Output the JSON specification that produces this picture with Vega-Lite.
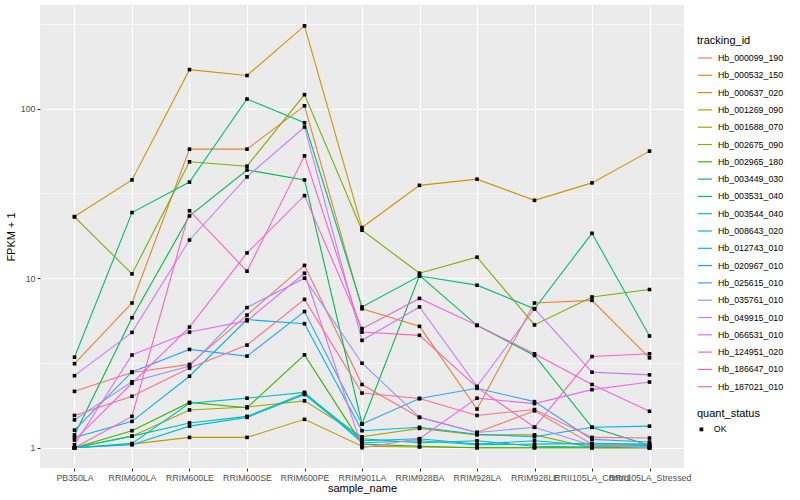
{
"$schema": "https://vega.github.io/schema/vega-lite/v6.json",
"width": 644, "height": 463,
"autosize": {"type": "none"},
"padding": {"left": 40, "top": 5, "right": 116, "bottom": 32},
"background": "white",
"config": {
  "font": "Liberation Sans",
  "view": {"fill": "#EBEBEB", "stroke": null},
  "axis": {"domain": false, "gridColor": "white", "tickColor": "#333333", "labelColor": "#4D4D4D", "labelFontSize": 8.8, "titleFontSize": 11, "titleFontWeight": "normal", "titleColor": "black", "tickSize": 3},
  "legend": {"labelFontSize": 8.8, "titleFontSize": 11, "titleFontWeight": "normal", "labelColor": "black", "titleColor": "black"}
},
"data": {"values": [
{"tracking_id":"Hb_000099_190","sample_name":"PB350LA","value":2.15,"quant_status":"OK"},
{"tracking_id":"Hb_000099_190","sample_name":"RRIM600LA","value":2.78,"quant_status":"OK"},
{"tracking_id":"Hb_000099_190","sample_name":"RRIM600LE","value":3.1,"quant_status":"OK"},
{"tracking_id":"Hb_000099_190","sample_name":"RRIM600SE","value":6.06,"quant_status":"OK"},
{"tracking_id":"Hb_000099_190","sample_name":"RRIM600PE","value":11.9,"quant_status":"OK"},
{"tracking_id":"Hb_000099_190","sample_name":"RRIM901LA","value":2.36,"quant_status":"OK"},
{"tracking_id":"Hb_000099_190","sample_name":"RRIM928BA","value":1.51,"quant_status":"OK"},
{"tracking_id":"Hb_000099_190","sample_name":"RRIM928LA","value":1.23,"quant_status":"OK"},
{"tracking_id":"Hb_000099_190","sample_name":"RRIM928LE","value":1.65,"quant_status":"OK"},
{"tracking_id":"Hb_000099_190","sample_name":"RRII105LA_Control","value":1.05,"quant_status":"OK"},
{"tracking_id":"Hb_000099_190","sample_name":"RRII105LA_Stressed","value":1.04,"quant_status":"OK"},
{"tracking_id":"Hb_000532_150","sample_name":"PB350LA","value":3.13,"quant_status":"OK"},
{"tracking_id":"Hb_000532_150","sample_name":"RRIM600LA","value":7.14,"quant_status":"OK"},
{"tracking_id":"Hb_000532_150","sample_name":"RRIM600LE","value":57.7,"quant_status":"OK"},
{"tracking_id":"Hb_000532_150","sample_name":"RRIM600SE","value":57.7,"quant_status":"OK"},
{"tracking_id":"Hb_000532_150","sample_name":"RRIM600PE","value":104,"quant_status":"OK"},
{"tracking_id":"Hb_000532_150","sample_name":"RRIM901LA","value":6.6,"quant_status":"OK"},
{"tracking_id":"Hb_000532_150","sample_name":"RRIM928BA","value":5.2,"quant_status":"OK"},
{"tracking_id":"Hb_000532_150","sample_name":"RRIM928LA","value":1.69,"quant_status":"OK"},
{"tracking_id":"Hb_000532_150","sample_name":"RRIM928LE","value":7.14,"quant_status":"OK"},
{"tracking_id":"Hb_000532_150","sample_name":"RRII105LA_Control","value":7.4,"quant_status":"OK"},
{"tracking_id":"Hb_000532_150","sample_name":"RRII105LA_Stressed","value":3.39,"quant_status":"OK"},
{"tracking_id":"Hb_000637_020","sample_name":"PB350LA","value":23.1,"quant_status":"OK"},
{"tracking_id":"Hb_000637_020","sample_name":"RRIM600LA","value":38,"quant_status":"OK"},
{"tracking_id":"Hb_000637_020","sample_name":"RRIM600LE","value":170,"quant_status":"OK"},
{"tracking_id":"Hb_000637_020","sample_name":"RRIM600SE","value":157,"quant_status":"OK"},
{"tracking_id":"Hb_000637_020","sample_name":"RRIM600PE","value":308,"quant_status":"OK"},
{"tracking_id":"Hb_000637_020","sample_name":"RRIM901LA","value":19.9,"quant_status":"OK"},
{"tracking_id":"Hb_000637_020","sample_name":"RRIM928BA","value":35.3,"quant_status":"OK"},
{"tracking_id":"Hb_000637_020","sample_name":"RRIM928LA","value":38.4,"quant_status":"OK"},
{"tracking_id":"Hb_000637_020","sample_name":"RRIM928LE","value":28.8,"quant_status":"OK"},
{"tracking_id":"Hb_000637_020","sample_name":"RRII105LA_Control","value":36.5,"quant_status":"OK"},
{"tracking_id":"Hb_000637_020","sample_name":"RRII105LA_Stressed","value":56.2,"quant_status":"OK"},
{"tracking_id":"Hb_001269_090","sample_name":"PB350LA","value":1.0,"quant_status":"OK"},
{"tracking_id":"Hb_001269_090","sample_name":"RRIM600LA","value":1.05,"quant_status":"OK"},
{"tracking_id":"Hb_001269_090","sample_name":"RRIM600LE","value":1.15,"quant_status":"OK"},
{"tracking_id":"Hb_001269_090","sample_name":"RRIM600SE","value":1.15,"quant_status":"OK"},
{"tracking_id":"Hb_001269_090","sample_name":"RRIM600PE","value":1.47,"quant_status":"OK"},
{"tracking_id":"Hb_001269_090","sample_name":"RRIM901LA","value":1.02,"quant_status":"OK"},
{"tracking_id":"Hb_001269_090","sample_name":"RRIM928BA","value":1.01,"quant_status":"OK"},
{"tracking_id":"Hb_001269_090","sample_name":"RRIM928LA","value":1.0,"quant_status":"OK"},
{"tracking_id":"Hb_001269_090","sample_name":"RRIM928LE","value":1.0,"quant_status":"OK"},
{"tracking_id":"Hb_001269_090","sample_name":"RRII105LA_Control","value":1.0,"quant_status":"OK"},
{"tracking_id":"Hb_001269_090","sample_name":"RRII105LA_Stressed","value":1.0,"quant_status":"OK"},
{"tracking_id":"Hb_001688_070","sample_name":"PB350LA","value":1.0,"quant_status":"OK"},
{"tracking_id":"Hb_001688_070","sample_name":"RRIM600LA","value":1.17,"quant_status":"OK"},
{"tracking_id":"Hb_001688_070","sample_name":"RRIM600LE","value":1.67,"quant_status":"OK"},
{"tracking_id":"Hb_001688_070","sample_name":"RRIM600SE","value":1.74,"quant_status":"OK"},
{"tracking_id":"Hb_001688_070","sample_name":"RRIM600PE","value":1.89,"quant_status":"OK"},
{"tracking_id":"Hb_001688_070","sample_name":"RRIM901LA","value":1.16,"quant_status":"OK"},
{"tracking_id":"Hb_001688_070","sample_name":"RRIM928BA","value":1.3,"quant_status":"OK"},
{"tracking_id":"Hb_001688_070","sample_name":"RRIM928LA","value":1.19,"quant_status":"OK"},
{"tracking_id":"Hb_001688_070","sample_name":"RRIM928LE","value":1.19,"quant_status":"OK"},
{"tracking_id":"Hb_001688_070","sample_name":"RRII105LA_Control","value":1.0,"quant_status":"OK"},
{"tracking_id":"Hb_001688_070","sample_name":"RRII105LA_Stressed","value":1.0,"quant_status":"OK"},
{"tracking_id":"Hb_002675_090","sample_name":"PB350LA","value":23.0,"quant_status":"OK"},
{"tracking_id":"Hb_002675_090","sample_name":"RRIM600LA","value":10.6,"quant_status":"OK"},
{"tracking_id":"Hb_002675_090","sample_name":"RRIM600LE","value":48.6,"quant_status":"OK"},
{"tracking_id":"Hb_002675_090","sample_name":"RRIM600SE","value":45.8,"quant_status":"OK"},
{"tracking_id":"Hb_002675_090","sample_name":"RRIM600PE","value":121,"quant_status":"OK"},
{"tracking_id":"Hb_002675_090","sample_name":"RRIM901LA","value":19.2,"quant_status":"OK"},
{"tracking_id":"Hb_002675_090","sample_name":"RRIM928BA","value":10.7,"quant_status":"OK"},
{"tracking_id":"Hb_002675_090","sample_name":"RRIM928LA","value":13.3,"quant_status":"OK"},
{"tracking_id":"Hb_002675_090","sample_name":"RRIM928LE","value":5.3,"quant_status":"OK"},
{"tracking_id":"Hb_002675_090","sample_name":"RRII105LA_Control","value":7.75,"quant_status":"OK"},
{"tracking_id":"Hb_002675_090","sample_name":"RRII105LA_Stressed","value":8.57,"quant_status":"OK"},
{"tracking_id":"Hb_002965_180","sample_name":"PB350LA","value":1.0,"quant_status":"OK"},
{"tracking_id":"Hb_002965_180","sample_name":"RRIM600LA","value":1.26,"quant_status":"OK"},
{"tracking_id":"Hb_002965_180","sample_name":"RRIM600LE","value":1.85,"quant_status":"OK"},
{"tracking_id":"Hb_002965_180","sample_name":"RRIM600SE","value":1.72,"quant_status":"OK"},
{"tracking_id":"Hb_002965_180","sample_name":"RRIM600PE","value":3.53,"quant_status":"OK"},
{"tracking_id":"Hb_002965_180","sample_name":"RRIM901LA","value":1.05,"quant_status":"OK"},
{"tracking_id":"Hb_002965_180","sample_name":"RRIM928BA","value":1.02,"quant_status":"OK"},
{"tracking_id":"Hb_002965_180","sample_name":"RRIM928LA","value":1.0,"quant_status":"OK"},
{"tracking_id":"Hb_002965_180","sample_name":"RRIM928LE","value":1.0,"quant_status":"OK"},
{"tracking_id":"Hb_002965_180","sample_name":"RRII105LA_Control","value":1.0,"quant_status":"OK"},
{"tracking_id":"Hb_002965_180","sample_name":"RRII105LA_Stressed","value":1.0,"quant_status":"OK"},
{"tracking_id":"Hb_003449_030","sample_name":"PB350LA","value":1.19,"quant_status":"OK"},
{"tracking_id":"Hb_003449_030","sample_name":"RRIM600LA","value":5.85,"quant_status":"OK"},
{"tracking_id":"Hb_003449_030","sample_name":"RRIM600LE","value":23.3,"quant_status":"OK"},
{"tracking_id":"Hb_003449_030","sample_name":"RRIM600SE","value":43.5,"quant_status":"OK"},
{"tracking_id":"Hb_003449_030","sample_name":"RRIM600PE","value":38,"quant_status":"OK"},
{"tracking_id":"Hb_003449_030","sample_name":"RRIM901LA","value":1.38,"quant_status":"OK"},
{"tracking_id":"Hb_003449_030","sample_name":"RRIM928BA","value":10.4,"quant_status":"OK"},
{"tracking_id":"Hb_003449_030","sample_name":"RRIM928LA","value":5.27,"quant_status":"OK"},
{"tracking_id":"Hb_003449_030","sample_name":"RRIM928LE","value":3.5,"quant_status":"OK"},
{"tracking_id":"Hb_003449_030","sample_name":"RRII105LA_Control","value":1.32,"quant_status":"OK"},
{"tracking_id":"Hb_003449_030","sample_name":"RRII105LA_Stressed","value":1.03,"quant_status":"OK"},
{"tracking_id":"Hb_003531_040","sample_name":"PB350LA","value":3.42,"quant_status":"OK"},
{"tracking_id":"Hb_003531_040","sample_name":"RRIM600LA","value":24.4,"quant_status":"OK"},
{"tracking_id":"Hb_003531_040","sample_name":"RRIM600LE","value":36.9,"quant_status":"OK"},
{"tracking_id":"Hb_003531_040","sample_name":"RRIM600SE","value":114,"quant_status":"OK"},
{"tracking_id":"Hb_003531_040","sample_name":"RRIM600PE","value":82.6,"quant_status":"OK"},
{"tracking_id":"Hb_003531_040","sample_name":"RRIM901LA","value":6.76,"quant_status":"OK"},
{"tracking_id":"Hb_003531_040","sample_name":"RRIM928BA","value":10.3,"quant_status":"OK"},
{"tracking_id":"Hb_003531_040","sample_name":"RRIM928LA","value":9.1,"quant_status":"OK"},
{"tracking_id":"Hb_003531_040","sample_name":"RRIM928LE","value":6.6,"quant_status":"OK"},
{"tracking_id":"Hb_003531_040","sample_name":"RRII105LA_Control","value":18.4,"quant_status":"OK"},
{"tracking_id":"Hb_003531_040","sample_name":"RRII105LA_Stressed","value":4.56,"quant_status":"OK"},
{"tracking_id":"Hb_003544_040","sample_name":"PB350LA","value":1.0,"quant_status":"OK"},
{"tracking_id":"Hb_003544_040","sample_name":"RRIM600LA","value":1.17,"quant_status":"OK"},
{"tracking_id":"Hb_003544_040","sample_name":"RRIM600LE","value":1.4,"quant_status":"OK"},
{"tracking_id":"Hb_003544_040","sample_name":"RRIM600SE","value":1.53,"quant_status":"OK"},
{"tracking_id":"Hb_003544_040","sample_name":"RRIM600PE","value":2.09,"quant_status":"OK"},
{"tracking_id":"Hb_003544_040","sample_name":"RRIM901LA","value":1.13,"quant_status":"OK"},
{"tracking_id":"Hb_003544_040","sample_name":"RRIM928BA","value":1.07,"quant_status":"OK"},
{"tracking_id":"Hb_003544_040","sample_name":"RRIM928LA","value":1.1,"quant_status":"OK"},
{"tracking_id":"Hb_003544_040","sample_name":"RRIM928LE","value":1.02,"quant_status":"OK"},
{"tracking_id":"Hb_003544_040","sample_name":"RRII105LA_Control","value":1.01,"quant_status":"OK"},
{"tracking_id":"Hb_003544_040","sample_name":"RRII105LA_Stressed","value":1.03,"quant_status":"OK"},
{"tracking_id":"Hb_008643_020","sample_name":"PB350LA","value":1.0,"quant_status":"OK"},
{"tracking_id":"Hb_008643_020","sample_name":"RRIM600LA","value":1.06,"quant_status":"OK"},
{"tracking_id":"Hb_008643_020","sample_name":"RRIM600LE","value":1.83,"quant_status":"OK"},
{"tracking_id":"Hb_008643_020","sample_name":"RRIM600SE","value":1.96,"quant_status":"OK"},
{"tracking_id":"Hb_008643_020","sample_name":"RRIM600PE","value":2.12,"quant_status":"OK"},
{"tracking_id":"Hb_008643_020","sample_name":"RRIM901LA","value":1.07,"quant_status":"OK"},
{"tracking_id":"Hb_008643_020","sample_name":"RRIM928BA","value":1.1,"quant_status":"OK"},
{"tracking_id":"Hb_008643_020","sample_name":"RRIM928LA","value":1.04,"quant_status":"OK"},
{"tracking_id":"Hb_008643_020","sample_name":"RRIM928LE","value":1.05,"quant_status":"OK"},
{"tracking_id":"Hb_008643_020","sample_name":"RRII105LA_Control","value":1.06,"quant_status":"OK"},
{"tracking_id":"Hb_008643_020","sample_name":"RRII105LA_Stressed","value":1.05,"quant_status":"OK"},
{"tracking_id":"Hb_012743_010","sample_name":"PB350LA","value":1.0,"quant_status":"OK"},
{"tracking_id":"Hb_012743_010","sample_name":"RRIM600LA","value":1.04,"quant_status":"OK"},
{"tracking_id":"Hb_012743_010","sample_name":"RRIM600LE","value":1.34,"quant_status":"OK"},
{"tracking_id":"Hb_012743_010","sample_name":"RRIM600SE","value":1.51,"quant_status":"OK"},
{"tracking_id":"Hb_012743_010","sample_name":"RRIM600PE","value":2.06,"quant_status":"OK"},
{"tracking_id":"Hb_012743_010","sample_name":"RRIM901LA","value":1.1,"quant_status":"OK"},
{"tracking_id":"Hb_012743_010","sample_name":"RRIM928BA","value":1.13,"quant_status":"OK"},
{"tracking_id":"Hb_012743_010","sample_name":"RRIM928LA","value":1.05,"quant_status":"OK"},
{"tracking_id":"Hb_012743_010","sample_name":"RRIM928LE","value":1.1,"quant_status":"OK"},
{"tracking_id":"Hb_012743_010","sample_name":"RRII105LA_Control","value":1.03,"quant_status":"OK"},
{"tracking_id":"Hb_012743_010","sample_name":"RRII105LA_Stressed","value":1.02,"quant_status":"OK"},
{"tracking_id":"Hb_020967_010","sample_name":"PB350LA","value":1.15,"quant_status":"OK"},
{"tracking_id":"Hb_020967_010","sample_name":"RRIM600LA","value":1.43,"quant_status":"OK"},
{"tracking_id":"Hb_020967_010","sample_name":"RRIM600LE","value":2.64,"quant_status":"OK"},
{"tracking_id":"Hb_020967_010","sample_name":"RRIM600SE","value":5.7,"quant_status":"OK"},
{"tracking_id":"Hb_020967_010","sample_name":"RRIM600PE","value":5.39,"quant_status":"OK"},
{"tracking_id":"Hb_020967_010","sample_name":"RRIM901LA","value":1.26,"quant_status":"OK"},
{"tracking_id":"Hb_020967_010","sample_name":"RRIM928BA","value":1.32,"quant_status":"OK"},
{"tracking_id":"Hb_020967_010","sample_name":"RRIM928LA","value":1.2,"quant_status":"OK"},
{"tracking_id":"Hb_020967_010","sample_name":"RRIM928LE","value":1.16,"quant_status":"OK"},
{"tracking_id":"Hb_020967_010","sample_name":"RRII105LA_Control","value":1.32,"quant_status":"OK"},
{"tracking_id":"Hb_020967_010","sample_name":"RRII105LA_Stressed","value":1.34,"quant_status":"OK"},
{"tracking_id":"Hb_025615_010","sample_name":"PB350LA","value":1.27,"quant_status":"OK"},
{"tracking_id":"Hb_025615_010","sample_name":"RRIM600LA","value":2.8,"quant_status":"OK"},
{"tracking_id":"Hb_025615_010","sample_name":"RRIM600LE","value":3.8,"quant_status":"OK"},
{"tracking_id":"Hb_025615_010","sample_name":"RRIM600SE","value":3.47,"quant_status":"OK"},
{"tracking_id":"Hb_025615_010","sample_name":"RRIM600PE","value":6.36,"quant_status":"OK"},
{"tracking_id":"Hb_025615_010","sample_name":"RRIM901LA","value":1.38,"quant_status":"OK"},
{"tracking_id":"Hb_025615_010","sample_name":"RRIM928BA","value":1.95,"quant_status":"OK"},
{"tracking_id":"Hb_025615_010","sample_name":"RRIM928LA","value":2.24,"quant_status":"OK"},
{"tracking_id":"Hb_025615_010","sample_name":"RRIM928LE","value":1.87,"quant_status":"OK"},
{"tracking_id":"Hb_025615_010","sample_name":"RRII105LA_Control","value":1.12,"quant_status":"OK"},
{"tracking_id":"Hb_025615_010","sample_name":"RRII105LA_Stressed","value":1.08,"quant_status":"OK"},
{"tracking_id":"Hb_035761_010","sample_name":"PB350LA","value":1.46,"quant_status":"OK"},
{"tracking_id":"Hb_035761_010","sample_name":"RRIM600LA","value":2.45,"quant_status":"OK"},
{"tracking_id":"Hb_035761_010","sample_name":"RRIM600LE","value":3.03,"quant_status":"OK"},
{"tracking_id":"Hb_035761_010","sample_name":"RRIM600SE","value":6.71,"quant_status":"OK"},
{"tracking_id":"Hb_035761_010","sample_name":"RRIM600PE","value":10.0,"quant_status":"OK"},
{"tracking_id":"Hb_035761_010","sample_name":"RRIM901LA","value":3.15,"quant_status":"OK"},
{"tracking_id":"Hb_035761_010","sample_name":"RRIM928BA","value":1.51,"quant_status":"OK"},
{"tracking_id":"Hb_035761_010","sample_name":"RRIM928LA","value":1.23,"quant_status":"OK"},
{"tracking_id":"Hb_035761_010","sample_name":"RRIM928LE","value":1.32,"quant_status":"OK"},
{"tracking_id":"Hb_035761_010","sample_name":"RRII105LA_Control","value":1.03,"quant_status":"OK"},
{"tracking_id":"Hb_035761_010","sample_name":"RRII105LA_Stressed","value":1.0,"quant_status":"OK"},
{"tracking_id":"Hb_049915_010","sample_name":"PB350LA","value":2.66,"quant_status":"OK"},
{"tracking_id":"Hb_049915_010","sample_name":"RRIM600LA","value":4.79,"quant_status":"OK"},
{"tracking_id":"Hb_049915_010","sample_name":"RRIM600LE","value":16.8,"quant_status":"OK"},
{"tracking_id":"Hb_049915_010","sample_name":"RRIM600SE","value":39.6,"quant_status":"OK"},
{"tracking_id":"Hb_049915_010","sample_name":"RRIM600PE","value":78,"quant_status":"OK"},
{"tracking_id":"Hb_049915_010","sample_name":"RRIM901LA","value":4.3,"quant_status":"OK"},
{"tracking_id":"Hb_049915_010","sample_name":"RRIM928BA","value":6.77,"quant_status":"OK"},
{"tracking_id":"Hb_049915_010","sample_name":"RRIM928LA","value":2.3,"quant_status":"OK"},
{"tracking_id":"Hb_049915_010","sample_name":"RRIM928LE","value":6.6,"quant_status":"OK"},
{"tracking_id":"Hb_049915_010","sample_name":"RRII105LA_Control","value":2.79,"quant_status":"OK"},
{"tracking_id":"Hb_049915_010","sample_name":"RRII105LA_Stressed","value":2.69,"quant_status":"OK"},
{"tracking_id":"Hb_066531_010","sample_name":"PB350LA","value":1.04,"quant_status":"OK"},
{"tracking_id":"Hb_066531_010","sample_name":"RRIM600LA","value":3.52,"quant_status":"OK"},
{"tracking_id":"Hb_066531_010","sample_name":"RRIM600LE","value":4.81,"quant_status":"OK"},
{"tracking_id":"Hb_066531_010","sample_name":"RRIM600SE","value":5.6,"quant_status":"OK"},
{"tracking_id":"Hb_066531_010","sample_name":"RRIM600PE","value":10.7,"quant_status":"OK"},
{"tracking_id":"Hb_066531_010","sample_name":"RRIM901LA","value":1.0,"quant_status":"OK"},
{"tracking_id":"Hb_066531_010","sample_name":"RRIM928BA","value":1.13,"quant_status":"OK"},
{"tracking_id":"Hb_066531_010","sample_name":"RRIM928LA","value":1.96,"quant_status":"OK"},
{"tracking_id":"Hb_066531_010","sample_name":"RRIM928LE","value":1.82,"quant_status":"OK"},
{"tracking_id":"Hb_066531_010","sample_name":"RRII105LA_Control","value":2.2,"quant_status":"OK"},
{"tracking_id":"Hb_066531_010","sample_name":"RRII105LA_Stressed","value":2.44,"quant_status":"OK"},
{"tracking_id":"Hb_124951_020","sample_name":"PB350LA","value":1.11,"quant_status":"OK"},
{"tracking_id":"Hb_124951_020","sample_name":"RRIM600LA","value":2.4,"quant_status":"OK"},
{"tracking_id":"Hb_124951_020","sample_name":"RRIM600LE","value":5.15,"quant_status":"OK"},
{"tracking_id":"Hb_124951_020","sample_name":"RRIM600SE","value":14.1,"quant_status":"OK"},
{"tracking_id":"Hb_124951_020","sample_name":"RRIM600PE","value":30.7,"quant_status":"OK"},
{"tracking_id":"Hb_124951_020","sample_name":"RRIM901LA","value":5.04,"quant_status":"OK"},
{"tracking_id":"Hb_124951_020","sample_name":"RRIM928BA","value":7.6,"quant_status":"OK"},
{"tracking_id":"Hb_124951_020","sample_name":"RRIM928LA","value":5.27,"quant_status":"OK"},
{"tracking_id":"Hb_124951_020","sample_name":"RRIM928LE","value":3.58,"quant_status":"OK"},
{"tracking_id":"Hb_124951_020","sample_name":"RRII105LA_Control","value":2.36,"quant_status":"OK"},
{"tracking_id":"Hb_124951_020","sample_name":"RRII105LA_Stressed","value":1.64,"quant_status":"OK"},
{"tracking_id":"Hb_186647_010","sample_name":"PB350LA","value":1.0,"quant_status":"OK"},
{"tracking_id":"Hb_186647_010","sample_name":"RRIM600LA","value":1.53,"quant_status":"OK"},
{"tracking_id":"Hb_186647_010","sample_name":"RRIM600LE","value":25,"quant_status":"OK"},
{"tracking_id":"Hb_186647_010","sample_name":"RRIM600SE","value":11.0,"quant_status":"OK"},
{"tracking_id":"Hb_186647_010","sample_name":"RRIM600PE","value":52.7,"quant_status":"OK"},
{"tracking_id":"Hb_186647_010","sample_name":"RRIM901LA","value":4.81,"quant_status":"OK"},
{"tracking_id":"Hb_186647_010","sample_name":"RRIM928BA","value":4.6,"quant_status":"OK"},
{"tracking_id":"Hb_186647_010","sample_name":"RRIM928LA","value":2.27,"quant_status":"OK"},
{"tracking_id":"Hb_186647_010","sample_name":"RRIM928LE","value":1.32,"quant_status":"OK"},
{"tracking_id":"Hb_186647_010","sample_name":"RRII105LA_Control","value":3.45,"quant_status":"OK"},
{"tracking_id":"Hb_186647_010","sample_name":"RRII105LA_Stressed","value":3.58,"quant_status":"OK"},
{"tracking_id":"Hb_187021_010","sample_name":"PB350LA","value":1.55,"quant_status":"OK"},
{"tracking_id":"Hb_187021_010","sample_name":"RRIM600LA","value":2.01,"quant_status":"OK"},
{"tracking_id":"Hb_187021_010","sample_name":"RRIM600LE","value":2.95,"quant_status":"OK"},
{"tracking_id":"Hb_187021_010","sample_name":"RRIM600SE","value":4.03,"quant_status":"OK"},
{"tracking_id":"Hb_187021_010","sample_name":"RRIM600PE","value":7.5,"quant_status":"OK"},
{"tracking_id":"Hb_187021_010","sample_name":"RRIM901LA","value":2.1,"quant_status":"OK"},
{"tracking_id":"Hb_187021_010","sample_name":"RRIM928BA","value":1.95,"quant_status":"OK"},
{"tracking_id":"Hb_187021_010","sample_name":"RRIM928LA","value":1.55,"quant_status":"OK"},
{"tracking_id":"Hb_187021_010","sample_name":"RRIM928LE","value":1.68,"quant_status":"OK"},
{"tracking_id":"Hb_187021_010","sample_name":"RRII105LA_Control","value":1.15,"quant_status":"OK"},
{"tracking_id":"Hb_187021_010","sample_name":"RRII105LA_Stressed","value":1.14,"quant_status":"OK"}
]},
"encoding": {
  "x": {"field": "sample_name", "type": "nominal",
        "sort": ["PB350LA","RRIM600LA","RRIM600LE","RRIM600SE","RRIM600PE","RRIM901LA","RRIM928BA","RRIM928LA","RRIM928LE","RRII105LA_Control","RRII105LA_Stressed"],
        "scale": {"type": "point", "padding": 0.6},
        "axis": {"title": "sample_name", "labelAngle": 0, "grid": true, "gridWidth": 1.1, "labelPadding": 2, "titlePadding": 1, "labelOverlap": false}},
  "y": {"field": "value", "type": "quantitative",
        "scale": {"type": "log", "domain": [0.759, 409], "nice": false, "zero": false},
        "axis": {"title": "FPKM + 1", "values": [1, 3.16228, 10, 31.6228, 100, 316.228],
                 "labelExpr": "datum.value == 1 ? '1' : datum.value == 10 ? '10' : datum.value == 100 ? '100' : ''",
                 "tickOpacity": {"condition": {"test": "datum.value == 1 || datum.value == 10 || datum.value == 100", "value": 1}, "value": 0},
                 "gridWidth": {"condition": {"test": "datum.value == 1 || datum.value == 10 || datum.value == 100", "value": 1.1}, "value": 0.55},
                 "labelPadding": 2, "titlePadding": 4, "labelOverlap": false}}
},
"layer": [
  {"mark": {"type": "line", "strokeWidth": 1.1},
   "encoding": {
     "color": {"field": "tracking_id", "type": "nominal",
       "scale": {"domain": ["Hb_000099_190","Hb_000532_150","Hb_000637_020","Hb_001269_090","Hb_001688_070","Hb_002675_090","Hb_002965_180","Hb_003449_030","Hb_003531_040","Hb_003544_040","Hb_008643_020","Hb_012743_010","Hb_020967_010","Hb_025615_010","Hb_035761_010","Hb_049915_010","Hb_066531_010","Hb_124951_020","Hb_186647_010","Hb_187021_010"],
                 "range": ["#F8766D","#EA8331","#D89000","#C09B00","#A3A500","#7CAE00","#39B600","#00BB4E","#00BF7D","#00C1A3","#00BFC4","#00BAE0","#00B0F6","#35A2FF","#9590FF","#C77CFF","#E76BF3","#FA62DB","#FF62BC","#FF6C91"]},
       "legend": {"title": "tracking_id", "orient": "none", "legendX": 657, "legendY": 30, "direction": "vertical", "columns": 1,
                  "symbolType": "stroke", "symbolSize": 196, "symbolStrokeWidth": 1.2, "rowPadding": 4.3, "labelOffset": 5, "titlePadding": 4}}
   }},
  {"mark": {"type": "point", "shape": "square", "filled": true, "size": 13, "color": "black", "opacity": 1},
   "encoding": {
     "shape": {"field": "quant_status", "type": "nominal", "scale": {"range": ["square"]},
       "legend": {"title": "quant_status", "orient": "none", "legendX": 657, "legendY": 403, "symbolSize": 14, "symbolFillColor": "black", "symbolStrokeColor": "black", "labelOffset": 8, "titlePadding": 6}}
   }}
]
}
